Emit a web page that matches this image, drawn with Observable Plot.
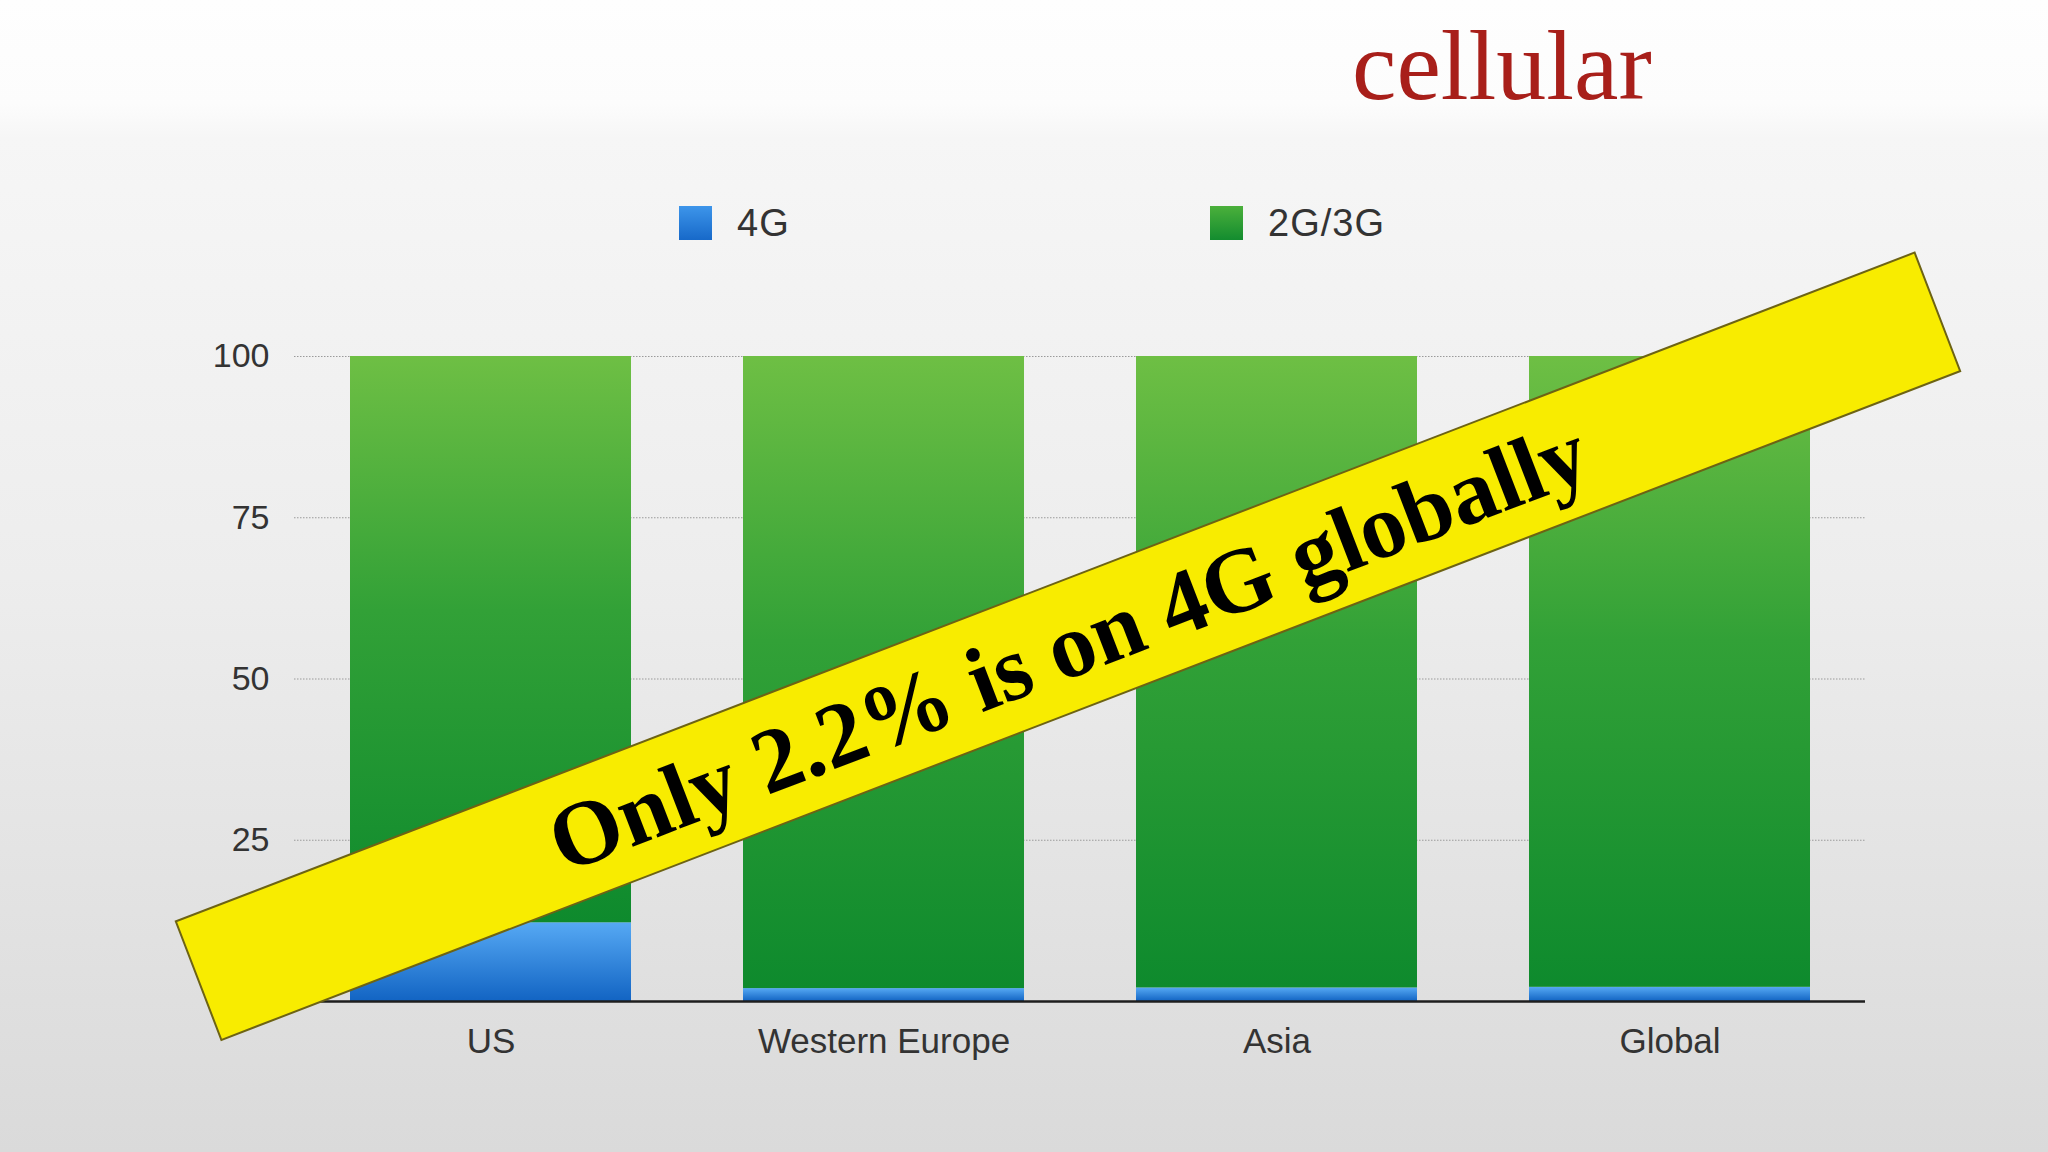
<!DOCTYPE html>
<html>
<head>
<meta charset="utf-8">
<script src="https://cdn.jsdelivr.net/npm/d3@7"></script>
<script src="https://cdn.jsdelivr.net/npm/@observablehq/plot@0.6"></script>
<style>
  html, body { margin: 0; padding: 0; width: 2048px; height: 1152px; overflow: hidden; }
  body {
    position: relative;
    background: linear-gradient(to bottom, #fefefe 0%, #fcfcfc 9%, #f6f6f6 12%, #ededed 50%, #dadada 100%);
    font-family: "Liberation Sans", Arial, sans-serif;
  }
  #header { position: relative; width: 2048px; height: 230px; }
  #title {
    position: absolute; left: 1352px; top: 16px;
    font-family: "Liberation Serif", "Times New Roman", serif;
    font-size: 100px; line-height: 1; color: #a81f1a; white-space: nowrap;
  }
  .legend-item {
    position: absolute; top: 206px; height: 34px;
    display: flex; align-items: center; gap: 25px;
    font-size: 38px; letter-spacing: 1px; color: #333; white-space: nowrap;
  }
  .swatch { width: 33px; height: 34px; display: inline-block; }
  #chart { position: absolute; left: 0; top: 230px; }
</style>
</head>
<body>
<div id="header">
  <div id="title">cellular</div>
  <div id="legend"></div>
</div>
<div id="chart"></div>
<script>
// ---- data ----
const regions = ["US", "Western Europe", "Asia", "Global"];
const seriesNames = ["4G", "2G/3G"];
const share4G = [12.2, 2.0, 2.1, 2.2];
const share2G3G = [87.8, 98.0, 97.9, 97.8];
const yTicks = [25, 50, 75, 100];
const bannerText = "Only 2.2% is on 4G globally";
const legendLefts = [679, 1210];

// long-format table for the library
const table = [];
regions.forEach((r, i) => {
  table.push({region: r, series: seriesNames[0], value: share4G[i]});
  table.push({region: r, series: seriesNames[1], value: share2G3G[i]});
});

// ---- legend ----
const swatchCss = {
  "4G": "linear-gradient(to bottom, #3d95ea, #1769c9)",
  "2G/3G": "linear-gradient(to bottom, #4bb03b, #138c2f)"
};
const legend = document.getElementById("legend");
seriesNames.forEach((s, i) => {
  const item = document.createElement("div");
  item.className = "legend-item";
  item.style.left = legendLefts[i] + "px";
  const sw = document.createElement("span");
  sw.className = "swatch";
  sw.style.background = swatchCss[s];
  const label = document.createElement("span");
  label.textContent = s;
  item.appendChild(sw);
  item.appendChild(label);
  legend.appendChild(item);
});

// ---- banner annotation ----
const bannerAt = 55;        // value on y scale for banner center
const bannerAngle = 21.04;  // degrees
const bannerLength = 1863;
const bannerThickness = 127;

function banner(index, scales) {
  const x = scales.x, y = scales.y;
  const bw = x.bandwidth ? x.bandwidth() : 281;
  const cx = (x("Western Europe") + x("Asia") + bw) / 2 - 12;
  const cy = y(bannerAt);
  const g = d3.create("svg:g")
    .attr("transform", `translate(${cx},${cy}) rotate(${-bannerAngle})`);
  g.append("rect")
    .attr("x", -bannerLength / 2).attr("y", -bannerThickness / 2)
    .attr("width", bannerLength).attr("height", bannerThickness)
    .attr("fill", "#f8ec00").attr("stroke", "#6d6314").attr("stroke-width", 2);
  g.append("text")
    .attr("x", 0).attr("y", 0)
    .attr("text-anchor", "middle")
    .attr("dominant-baseline", "central")
    .attr("font-family", "'Liberation Serif', 'Times New Roman', serif")
    .attr("font-weight", "bold")
    .attr("font-size", 92)
    .attr("fill", "#000")
    .text(bannerText);
  return g.node();
}

// ---- chart ----
const chart = Plot.plot({
  width: 2048,
  height: 922,
  marginTop: 126,
  marginBottom: 151,
  marginLeft: 294,
  marginRight: 183,
  style: {background: "transparent", fontFamily: "'Liberation Sans', Arial, sans-serif", color: "#333"},
  x: {domain: regions, paddingInner: 0.285, paddingOuter: 0.14, label: null},
  y: {domain: [0, 100], label: null},
  color: {domain: seriesNames, range: ["url(#grad4g)", "url(#grad23g)"]},
  marks: [
    Plot.ruleY(yTicks, {stroke: "#9a9a9a", strokeWidth: 1, strokeDasharray: "1.5,1.5"}),
    Plot.barY(table, {x: "region", y: "value", fill: "series", order: seriesNames}),
    Plot.ruleY([0], {stroke: "#1e1e1e", strokeWidth: 2.5}),
    Plot.axisY({ticks: yTicks, tickSize: 0, tickPadding: 25, fontSize: 34, fill: "#333"}),
    Plot.axisX({tickSize: 0, tickPadding: 27, fontSize: 35, fill: "#333"}),
    banner
  ]
});

// gradient definitions referenced by the color range
const defs = d3.select(chart).insert("defs", ":first-child");
const g1 = defs.append("linearGradient").attr("id", "grad23g").attr("x1", 0).attr("y1", 0).attr("x2", 0).attr("y2", 1);
g1.append("stop").attr("offset", "0%").attr("stop-color", "#6ebf44");
g1.append("stop").attr("offset", "45%").attr("stop-color", "#32a137");
g1.append("stop").attr("offset", "100%").attr("stop-color", "#0e8a2d");
const g2 = defs.append("linearGradient").attr("id", "grad4g").attr("x1", 0).attr("y1", 0).attr("x2", 0).attr("y2", 1);
g2.append("stop").attr("offset", "0%").attr("stop-color", "#56a9f4");
g2.append("stop").attr("offset", "100%").attr("stop-color", "#1264c3");

document.getElementById("chart").appendChild(chart);
</script>
</body>
</html>
